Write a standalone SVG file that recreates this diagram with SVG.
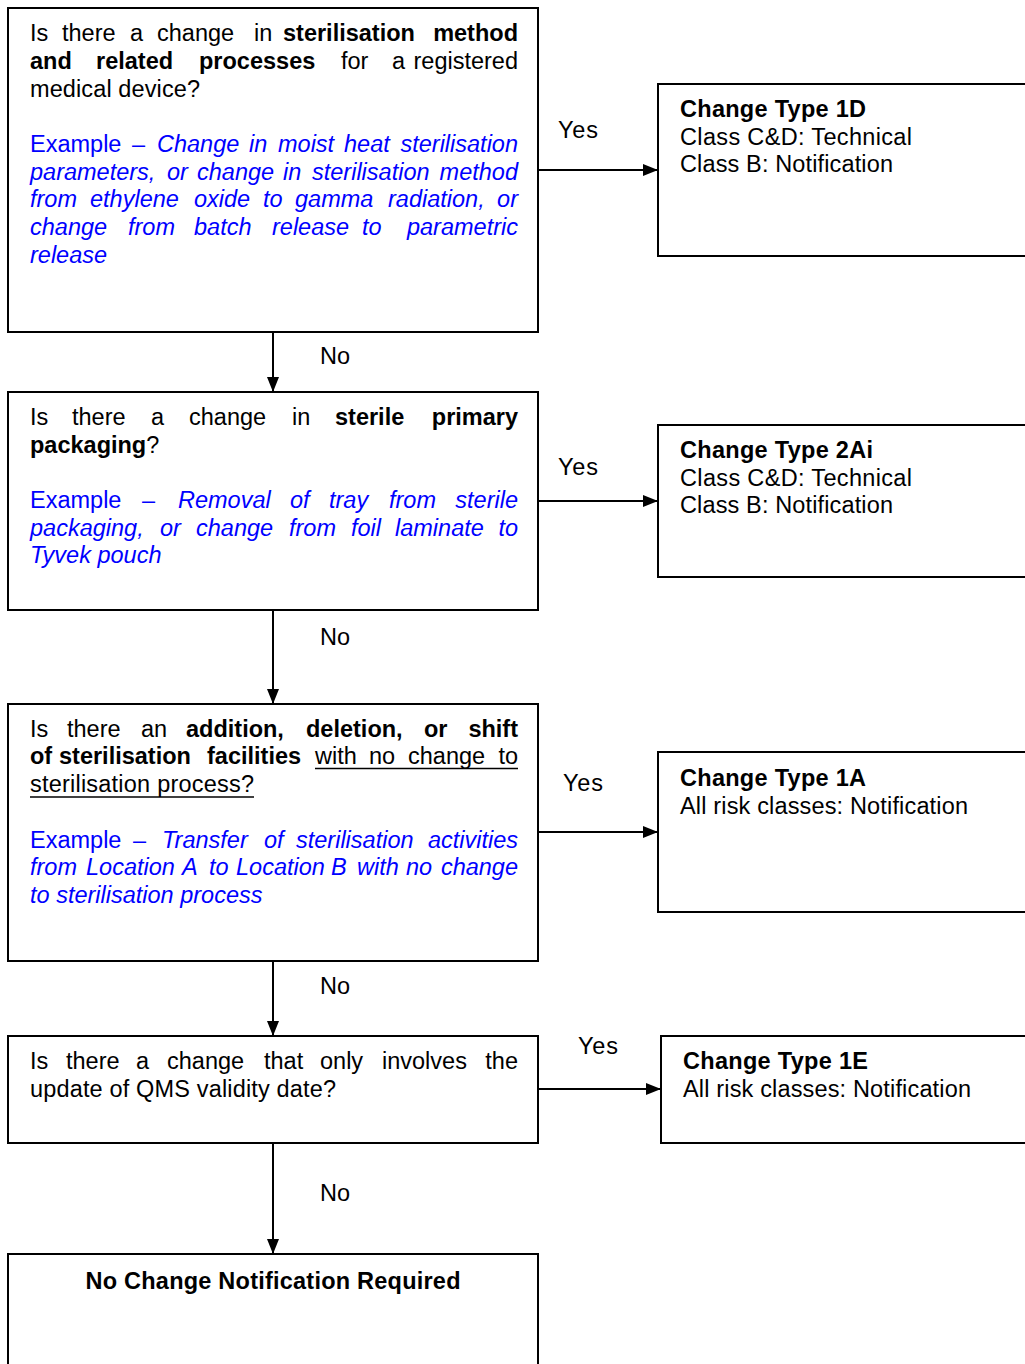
<svg xmlns="http://www.w3.org/2000/svg" width="1025" height="1364" viewBox="0 0 1025 1364">
<style>
  .box { fill: #fff; stroke: #000; stroke-width: 2; }
  text { font-family: "Liberation Sans", Arial, sans-serif; font-size: 23.5px; fill: #000; }
  .b { font-weight: bold; }
  .ex { fill: #0000FF; }
  .i { font-style: italic; }
  .e { text-anchor: end; }
  .conn { stroke: #000; stroke-width: 2; fill: none; marker-end: url(#arr); }
  .ul { stroke: #000; stroke-width: 1.5; }
</style>
<defs>
  <marker id="arr" viewBox="0 0 15 12" markerUnits="userSpaceOnUse" markerWidth="15" markerHeight="12" refX="15" refY="6" orient="auto">
    <path d="M0,0 L15,6 L0,12 z" fill="#000"/>
  </marker>
</defs>
<rect width="1025" height="1364" fill="#fff"/>

<g id="connectors">
  <line class="conn" x1="539" y1="170" x2="658" y2="170"/>
  <line class="conn" x1="273" y1="333" x2="273" y2="392"/>
  <line class="conn" x1="539" y1="501" x2="658" y2="501"/>
  <line class="conn" x1="273" y1="611" x2="273" y2="704"/>
  <line class="conn" x1="539" y1="832" x2="658" y2="832"/>
  <line class="conn" x1="273" y1="962" x2="273" y2="1036"/>
  <line class="conn" x1="539" y1="1089" x2="661" y2="1089"/>
  <line class="conn" x1="273" y1="1144" x2="273" y2="1254"/>
  <text x="558" y="138" textLength="40">Yes</text>
  <text x="558" y="475" textLength="40">Yes</text>
  <text x="563" y="791" textLength="40">Yes</text>
  <text x="578" y="1054" textLength="40">Yes</text>
  <text x="320" y="364" textLength="30">No</text>
  <text x="320" y="645" textLength="30">No</text>
  <text x="320" y="994" textLength="30">No</text>
  <text x="320" y="1201" textLength="30">No</text>
</g>

<g id="q1">
  <rect class="box" x="8" y="8" width="530" height="324"/>
  <text y="41"><tspan x="30">Is</tspan><tspan x="62">there</tspan><tspan x="130">a</tspan><tspan x="157">change</tspan><tspan x="254">in</tspan><tspan x="283" class="b">sterilisation</tspan></text>
  <text y="41" x="518" class="b e">method</text>
  <text y="69"><tspan x="30" class="b">and</tspan><tspan x="96" class="b">related</tspan><tspan x="199" class="b">processes</tspan><tspan x="341">for</tspan><tspan x="392">a</tspan></text>
  <text y="69" x="518" class="e">registered</text>
  <text x="30" y="97" textLength="170">medical device?</text>
  <text y="152" class="ex"><tspan x="30">Example</tspan><tspan x="132">–</tspan><tspan class="i" x="157">Change</tspan><tspan class="i" x="249">in</tspan><tspan class="i" x="278">moist</tspan><tspan class="i" x="344">heat</tspan></text>
  <text y="152" x="518" class="ex i e">sterilisation</text>
  <text y="180" class="ex i"><tspan x="30">parameters,</tspan><tspan x="167">or</tspan><tspan x="197">change</tspan><tspan x="283">in</tspan><tspan x="312">sterilisation</tspan></text>
  <text y="180" x="518" class="ex i e">method</text>
  <text y="207" class="ex i"><tspan x="30">from</tspan><tspan x="90">ethylene</tspan><tspan x="194">oxide</tspan><tspan x="263">to</tspan><tspan x="295">gamma</tspan><tspan x="388">radiation,</tspan></text>
  <text y="207" x="518" class="ex i e">or</text>
  <text y="235" class="ex i"><tspan x="30">change</tspan><tspan x="128">from</tspan><tspan x="194">batch</tspan><tspan x="272">release</tspan><tspan x="362">to</tspan></text>
  <text y="235" x="518" class="ex i e">parametric</text>
  <text y="263" class="ex i" x="30">release</text>
</g>

<g id="r1">
  <rect class="box" x="658" y="84" width="380" height="172"/>
  <text x="680" y="117" class="b" textLength="186">Change Type 1D</text>
  <text x="680" y="145" textLength="232">Class C&amp;D: Technical</text>
  <text x="680" y="172" textLength="213">Class B: Notification</text>
</g>

<g id="q2">
  <rect class="box" x="8" y="392" width="530" height="218"/>
  <text y="425"><tspan x="30">Is</tspan><tspan x="72">there</tspan><tspan x="151">a</tspan><tspan x="189">change</tspan><tspan x="292">in</tspan><tspan x="335" class="b">sterile</tspan></text>
  <text y="425" x="518" class="b e">primary</text>
  <text y="453" x="30"><tspan class="b">packaging</tspan>?</text>
  <text y="508" class="ex"><tspan x="30">Example</tspan><tspan x="142">–</tspan><tspan class="i" x="178">Removal</tspan><tspan class="i" x="290">of</tspan><tspan class="i" x="329">tray</tspan><tspan class="i" x="389">from</tspan></text>
  <text y="508" x="518" class="ex i e">sterile</text>
  <text y="536" class="ex i"><tspan x="30">packaging,</tspan><tspan x="160">or</tspan><tspan x="196">change</tspan><tspan x="289">from</tspan><tspan x="351">foil</tspan><tspan x="395">laminate</tspan></text>
  <text y="536" x="518" class="ex i e">to</text>
  <text y="563" class="ex i" x="30">Tyvek pouch</text>
</g>

<g id="r2">
  <rect class="box" x="658" y="425" width="380" height="152"/>
  <text x="680" y="458" class="b" textLength="193">Change Type 2Ai</text>
  <text x="680" y="486" textLength="232">Class C&amp;D: Technical</text>
  <text x="680" y="513" textLength="213">Class B: Notification</text>
</g>

<g id="q3">
  <rect class="box" x="8" y="704" width="530" height="257"/>
  <text y="737"><tspan x="30">Is</tspan><tspan x="67">there</tspan><tspan x="141">an</tspan><tspan x="186" class="b">addition,</tspan><tspan x="306" class="b">deletion,</tspan><tspan x="424" class="b">or</tspan></text>
  <text y="737" x="518" class="b e">shift</text>
  <text y="764"><tspan x="30" class="b">of</tspan><tspan x="59" class="b">sterilisation</tspan><tspan x="207" class="b">facilities</tspan><tspan x="315">with</tspan><tspan x="369">no</tspan><tspan x="408">change</tspan></text>
  <text y="764" x="518" class="e">to</text>
  <line class="ul" x1="315" y1="768.5" x2="518" y2="768.5"/>
  <text x="30" y="792" textLength="224">sterilisation process?</text>
  <line class="ul" x1="30" y1="797" x2="254" y2="797"/>
  <text y="848" class="ex"><tspan x="30">Example</tspan><tspan x="133">–</tspan><tspan class="i" x="162">Transfer</tspan><tspan class="i" x="264">of</tspan><tspan class="i" x="296">sterilisation</tspan></text>
  <text y="848" x="518" class="ex i e">activities</text>
  <text y="875" class="ex i"><tspan x="30">from</tspan><tspan x="86">Location</tspan><tspan x="182">A</tspan><tspan x="209">to</tspan><tspan x="236">Location</tspan><tspan x="331">B</tspan><tspan x="357">with</tspan><tspan x="406">no</tspan></text>
  <text y="875" x="518" class="ex i e">change</text>
  <text y="903" class="ex i" x="30">to sterilisation process</text>
</g>

<g id="r3">
  <rect class="box" x="658" y="752" width="380" height="160"/>
  <text x="680" y="786" class="b" textLength="186">Change Type 1A</text>
  <text x="680" y="814" textLength="288">All risk classes: Notification</text>
</g>

<g id="q4">
  <rect class="box" x="8" y="1036" width="530" height="107"/>
  <text y="1069"><tspan x="30">Is</tspan><tspan x="66">there</tspan><tspan x="136">a</tspan><tspan x="167">change</tspan><tspan x="264">that</tspan><tspan x="320">only</tspan><tspan x="382">involves</tspan></text>
  <text y="1069" x="518" class="e">the</text>
  <text x="30" y="1097" textLength="306">update of QMS validity date?</text>
</g>

<g id="r4">
  <rect class="box" x="661" y="1036" width="380" height="107"/>
  <text x="683" y="1069" class="b" textLength="185">Change Type 1E</text>
  <text x="683" y="1097" textLength="288">All risk classes: Notification</text>
</g>

<g id="end">
  <rect class="box" x="8" y="1254" width="530" height="130"/>
  <text x="273" y="1289" class="b" text-anchor="middle" textLength="375">No Change Notification Required</text>
</g>
</svg>
